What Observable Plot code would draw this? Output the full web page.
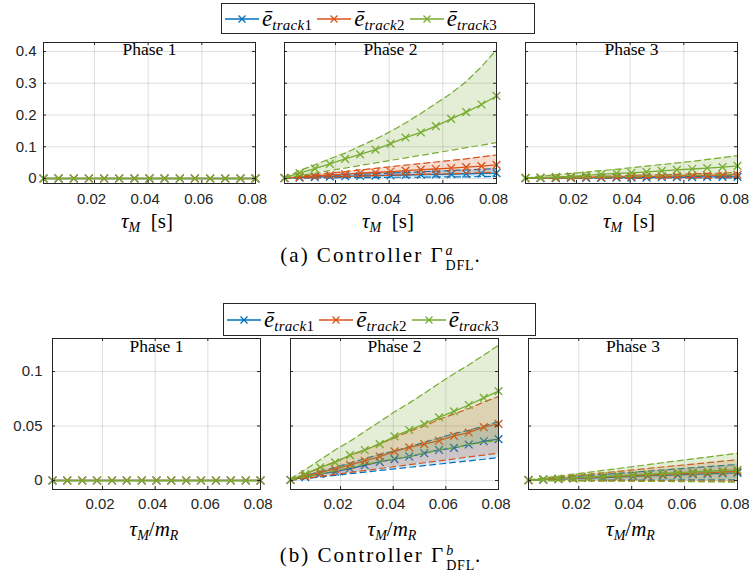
<!DOCTYPE html>
<html><head><meta charset="utf-8">
<script src="https://cdn.jsdelivr.net/npm/d3@7"></script>
<script src="https://cdn.jsdelivr.net/npm/@observablehq/plot@0.6"></script>
<style>
body{margin:0;background:#fff;}
#fig{position:relative;width:749px;height:584px;overflow:hidden;background:#fff;}
.lbl{position:absolute;font-family:"Liberation Serif","Times New Roman",serif;font-size:21px;color:#000;white-space:nowrap;transform:translate(-50%,-50%);line-height:1;}
.lbl i{font-style:italic;}
.lbl sub{font-size:14px;vertical-align:-0.3em;line-height:0;}
.cap{position:absolute;font-family:"Liberation Serif","Times New Roman",serif;font-size:21px;letter-spacing:2px;color:#000;white-space:nowrap;transform:translate(-50%,-50%);line-height:1;}
.supsub{display:inline-block;vertical-align:-0.55em;line-height:1.05;font-size:14px;letter-spacing:0.8px;margin-left:1px;}
.supsub span{display:block;}
.legend{position:absolute;border:1px solid #262626;background:#fff;display:flex;align-items:center;box-sizing:border-box;padding-left:2px;}
.entry{display:flex;align-items:center;margin-right:4px;}
.entry svg{display:block;}
.etxt{font-family:"Liberation Serif","Times New Roman",serif;font-size:23px;font-style:italic;line-height:1;white-space:nowrap;margin-left:2px;}
.etxt sub{font-size:15px;vertical-align:-0.25em;line-height:0;letter-spacing:0.3px;}
.etxt sub span{font-style:normal;}
</style></head><body><div id="fig"></div>
<script>
// ---------- data ----------
const tauM = [0.001, 0.0066, 0.0123, 0.0179, 0.0236, 0.0292, 0.0349, 0.0405, 0.0461, 0.0518, 0.0574, 0.0631, 0.0687, 0.0744, 0.08];
const xTicks = [0.02, 0.04, 0.06, 0.08];
const yTicksA = [0, 0.1, 0.2, 0.3, 0.4];
const yTicksB = [0, 0.05, 0.1];
const trackNames = ["track", "track", "track"];
const trackNums = ["1", "2", "3"];
const phaseNames = ["Phase 1", "Phase 2", "Phase 3"];
const colors = ["#0072BD", "#D95319", "#77AC30"];

const zeros = [0, 0, 0, 0, 0, 0, 0, 0, 0, 0, 0, 0, 0, 0, 0];

// Controller a, phase 2
const a2_t1_mean = [0.001, 0.003, 0.004, 0.006, 0.007, 0.008, 0.009, 0.010, 0.011, 0.012, 0.013, 0.014, 0.015, 0.016, 0.017];
const a2_t1_lo   = [0.001, 0.001, 0.002, 0.002, 0.003, 0.003, 0.003, 0.004, 0.004, 0.004, 0.005, 0.005, 0.005, 0.006, 0.006];
const a2_t1_hi   = [0.001, 0.004, 0.006, 0.009, 0.011, 0.013, 0.015, 0.017, 0.019, 0.021, 0.023, 0.025, 0.027, 0.029, 0.031];
const a2_t2_mean = [0.001, 0.005, 0.008, 0.011, 0.014, 0.017, 0.019, 0.022, 0.025, 0.028, 0.030, 0.033, 0.036, 0.039, 0.043];
const a2_t2_lo   = [0.001, 0.002, 0.003, 0.005, 0.006, 0.007, 0.009, 0.010, 0.011, 0.013, 0.014, 0.015, 0.017, 0.018, 0.020];
const a2_t2_hi   = [0.001, 0.007, 0.012, 0.017, 0.022, 0.027, 0.032, 0.037, 0.042, 0.047, 0.052, 0.057, 0.062, 0.068, 0.074];
const a2_t3_mean = [0.002, 0.017, 0.031, 0.046, 0.062, 0.076, 0.091, 0.110, 0.129, 0.145, 0.165, 0.188, 0.209, 0.233, 0.260];
const a2_t3_lo   = [0.001, 0.009, 0.017, 0.025, 0.033, 0.041, 0.049, 0.057, 0.065, 0.073, 0.081, 0.089, 0.097, 0.105, 0.113];
const a2_t3_hi   = [0.002, 0.025, 0.043, 0.062, 0.080, 0.102, 0.124, 0.148, 0.175, 0.205, 0.236, 0.268, 0.305, 0.352, 0.405];

// Controller a, phase 3
const a3_t1_mean = [0.001, 0.001, 0.001, 0.002, 0.002, 0.002, 0.003, 0.003, 0.003, 0.004, 0.004, 0.004, 0.005, 0.005, 0.005];
const a3_t1_lo   = [0.0005, 0.0005, 0.001, 0.001, 0.001, 0.001, 0.001, 0.001, 0.001, 0.002, 0.002, 0.002, 0.002, 0.002, 0.002];
const a3_t1_hi   = [0.001, 0.002, 0.002, 0.003, 0.003, 0.004, 0.004, 0.005, 0.005, 0.006, 0.006, 0.007, 0.007, 0.008, 0.008];
const a3_t2_mean = [0.001, 0.002, 0.002, 0.003, 0.004, 0.004, 0.005, 0.006, 0.007, 0.007, 0.008, 0.009, 0.010, 0.011, 0.012];
const a3_t2_lo   = [0.001, 0.001, 0.001, 0.001, 0.002, 0.002, 0.002, 0.002, 0.003, 0.003, 0.003, 0.003, 0.004, 0.004, 0.004];
const a3_t2_hi   = [0.001, 0.002, 0.003, 0.005, 0.006, 0.007, 0.008, 0.010, 0.011, 0.012, 0.013, 0.015, 0.016, 0.017, 0.019];
const a3_t3_mean = [0.002, 0.003, 0.005, 0.007, 0.010, 0.013, 0.016, 0.018, 0.021, 0.024, 0.027, 0.030, 0.033, 0.036, 0.040];
const a3_t3_lo   = [0.001, 0.002, 0.003, 0.003, 0.004, 0.005, 0.006, 0.006, 0.007, 0.008, 0.009, 0.010, 0.011, 0.012, 0.013];
const a3_t3_hi   = [0.002, 0.007, 0.012, 0.016, 0.020, 0.025, 0.029, 0.034, 0.039, 0.044, 0.049, 0.054, 0.060, 0.066, 0.072];

// Controller b, phase 2
const b2_t1_mean = [0.0005, 0.003, 0.006, 0.008, 0.011, 0.014, 0.017, 0.0196, 0.022, 0.025, 0.028, 0.030, 0.033, 0.036, 0.038];
const b2_t1_lo   = [0.0003, 0.0017, 0.0032, 0.0047, 0.0062, 0.0077, 0.0092, 0.0107, 0.0121, 0.0136, 0.0151, 0.0166, 0.018, 0.0195, 0.021];
const b2_t1_hi   = [0.0007, 0.0045, 0.0083, 0.012, 0.016, 0.020, 0.024, 0.027, 0.031, 0.035, 0.039, 0.043, 0.046, 0.050, 0.054];
const b2_t2_mean = [0.0005, 0.0043, 0.0074, 0.0104, 0.0144, 0.018, 0.022, 0.0267, 0.0304, 0.0334, 0.0365, 0.041, 0.044, 0.049, 0.052];
const b2_t2_lo   = [0.0003, 0.002, 0.0038, 0.0056, 0.0074, 0.0092, 0.011, 0.0127, 0.0145, 0.0163, 0.018, 0.0198, 0.0216, 0.0233, 0.025];
const b2_t2_hi   = [0.001, 0.006, 0.012, 0.017, 0.023, 0.028, 0.034, 0.039, 0.045, 0.050, 0.056, 0.061, 0.066, 0.072, 0.077];
const b2_t3_mean = [0.0005, 0.0058, 0.012, 0.0166, 0.0233, 0.028, 0.0334, 0.0405, 0.0463, 0.0518, 0.058, 0.0635, 0.0693, 0.0758, 0.082];
const b2_t3_lo   = [0.0005, 0.003, 0.006, 0.009, 0.012, 0.015, 0.017, 0.020, 0.022, 0.025, 0.028, 0.030, 0.033, 0.035, 0.037];
const b2_t3_hi   = [0.0015, 0.010, 0.019, 0.028, 0.036, 0.045, 0.054, 0.063, 0.071, 0.080, 0.089, 0.098, 0.106, 0.115, 0.124];

// Controller b, phase 3
const b3_t1_mean = [0.0003, 0.0008, 0.0013, 0.0018, 0.0023, 0.0027, 0.0032, 0.0037, 0.0042, 0.0047, 0.0052, 0.0057, 0.0061, 0.0066, 0.007];
const b3_t1_lo   = [0, 0.0001, 0.0001, 0.0002, 0.0002, 0.0003, 0.0003, 0.0003, 0.0004, 0.0004, 0.0005, 0.0005, 0.0005, 0.0006, 0.0006];
const b3_t1_hi   = [0.0003, 0.0013, 0.0024, 0.0034, 0.0045, 0.0055, 0.0065, 0.0075, 0.0086, 0.0096, 0.0106, 0.0117, 0.0127, 0.0137, 0.0147];
const b3_t2_mean = [0.0003, 0.0009, 0.0015, 0.0021, 0.0027, 0.0033, 0.0038, 0.0044, 0.0050, 0.0056, 0.0062, 0.0067, 0.0073, 0.0078, 0.0083];
const b3_t2_lo   = [0, 0, -0.0001, -0.0001, -0.0002, -0.0002, -0.0002, -0.0003, -0.0003, -0.0004, -0.0004, -0.0005, -0.0005, -0.0006, -0.0006];
const b3_t2_hi   = [0.0004, 0.0017, 0.003, 0.0044, 0.0057, 0.007, 0.0084, 0.0097, 0.011, 0.0124, 0.0137, 0.015, 0.0164, 0.0177, 0.019];
const b3_t3_mean = [0.0003, 0.001, 0.0017, 0.0024, 0.0031, 0.0038, 0.0045, 0.0052, 0.0059, 0.0066, 0.0072, 0.0079, 0.0085, 0.0092, 0.0098];
const b3_t3_lo   = [0, -0.0001, -0.0002, -0.0003, -0.0004, -0.0005, -0.0006, -0.0007, -0.0008, -0.0009, -0.001, -0.0011, -0.0012, -0.0014, -0.0015];
const b3_t3_hi   = [0.0005, 0.0022, 0.004, 0.0058, 0.0075, 0.0093, 0.011, 0.0128, 0.0145, 0.0163, 0.018, 0.0198, 0.0215, 0.0233, 0.025];

// ---------- layout ----------
const fig = document.getElementById("fig");
const ML = 45, MR = 12, MT = 2, MB = 30;

const rows = [
  {
    yDomain: [-0.0157, 0.4283], yTicks: yTicksA, top: 42, bottom: 183,
    frames: [[43, 255], [284, 496], [525, 737]], yPad: 7, xPad: 10, xDx: -3, titleDy: 0,
    phases: [
      [[zeros, zeros, zeros], [zeros, zeros, zeros], [zeros, zeros, zeros]],
      [[a2_t1_mean, a2_t1_lo, a2_t1_hi], [a2_t2_mean, a2_t2_lo, a2_t2_hi], [a2_t3_mean, a2_t3_lo, a2_t3_hi]],
      [[a3_t1_mean, a3_t1_lo, a3_t1_hi], [a3_t2_mean, a3_t2_lo, a3_t2_hi], [a3_t3_mean, a3_t3_lo, a3_t3_hi]]
    ]
  },
  {
    yDomain: [-0.00826, 0.1303], yTicks: yTicksB, top: 338, bottom: 489,
    frames: [[52, 260], [290, 498], [528, 737]], yPad: 10, xPad: 9, xDx: -2.5, titleDy: 1,
    phases: [
      [[zeros, zeros, zeros], [zeros, zeros, zeros], [zeros, zeros, zeros]],
      [[b2_t1_mean, b2_t1_lo, b2_t1_hi], [b2_t2_mean, b2_t2_lo, b2_t2_hi], [b2_t3_mean, b2_t3_lo, b2_t3_hi]],
      [[b3_t1_mean, b3_t1_lo, b3_t1_hi], [b3_t2_mean, b3_t2_lo, b3_t2_hi], [b3_t3_mean, b3_t3_lo, b3_t3_hi]]
    ]
  }
];

const ink = "#262626";
const sans = "Liberation Sans, Arial, Helvetica, sans-serif";

rows.forEach((row) => {
  row.frames.forEach(([fl, fr], p) => {
    const fw = fr - fl, fh = row.bottom - row.top;
    const marks = [
      Plot.gridX(xTicks, {stroke: "#000", strokeOpacity: 0.13}),
      Plot.gridY(row.yTicks, {stroke: "#000", strokeOpacity: 0.13})
    ];
    row.phases[p].forEach(([mean, lo, hi], t) => {
      const data = tauM.map((x, j) => ({x, m: mean[j], lo: lo[j], hi: hi[j]}));
      const c = colors[t];
      marks.push(Plot.areaY(data, {x: "x", y1: "lo", y2: "hi", fill: c, fillOpacity: 0.2}));
      marks.push(Plot.lineY(data, {x: "x", y: "hi", stroke: c, strokeWidth: 1.2, strokeDasharray: "6,4"}));
      marks.push(Plot.lineY(data, {x: "x", y: "lo", stroke: c, strokeWidth: 1.2, strokeDasharray: "6,4"}));
      marks.push(Plot.lineY(data, {x: "x", y: "m", stroke: c, strokeWidth: 1.3}));
      marks.push(Plot.dot(data, {x: "x", y: "m", symbol: "times", stroke: c, r: 3.6, strokeWidth: 1.3}));
    });
    // inward tick marks (MATLAB box style)
    marks.push(Plot.tickX(xTicks, {x: d => d, insetTop: fh - 3, stroke: ink}));
    marks.push(Plot.tickX(xTicks, {x: d => d, insetBottom: fh - 3, stroke: ink}));
    marks.push(Plot.tickY(row.yTicks, {y: d => d, insetRight: fw - 3, stroke: ink}));
    marks.push(Plot.tickY(row.yTicks, {y: d => d, insetLeft: fw - 3, stroke: ink}));
    marks.push(Plot.frame({stroke: ink, strokeWidth: 1}));
    marks.push(Plot.axisX(xTicks, {tickSize: 0, tickPadding: row.xPad, dx: row.xDx, tickFormat: d => String(d), fontSize: 15, fill: ink, fontFamily: sans, label: null}));
    marks.push(Plot.axisY(row.yTicks, {tickSize: 0, tickPadding: row.yPad, tickFormat: p === 0 ? (d => String(d)) : (() => ""), fontSize: 15, fill: ink, fontFamily: sans, label: null}));
    marks.push(Plot.text([phaseNames[p]], {text: d => d, frameAnchor: "top", lineAnchor: "top", dy: row.titleDy, fontFamily: "Liberation Serif, Times New Roman, serif", fontSize: 17.5, fill: "#000"}));

    const svg = Plot.plot({
      width: fw + ML + MR,
      height: fh + MT + MB,
      marginLeft: ML, marginRight: MR, marginTop: MT, marginBottom: MB,
      x: {domain: [0.001, 0.08]},
      y: {domain: row.yDomain},
      style: {background: "transparent", overflow: "visible"},
      marks
    });
    svg.style.position = "absolute";
    svg.style.left = (fl - ML) + "px";
    svg.style.top = (row.top - MT) + "px";
    fig.appendChild(svg);
  });
});

// axis labels and captions
function addLabel(html, cx, cy, cls) {
  const d = document.createElement("div");
  d.className = cls;
  d.style.left = cx + "px";
  d.style.top = cy + "px";
  d.innerHTML = html;
  fig.appendChild(d);
}
rows[0].frames.forEach(([fl, fr]) => addLabel('<i>τ</i><sub><i>M</i></sub>&nbsp; [s]', (fl + fr) / 2 - 2, 221, "lbl"));
rows[1].frames.forEach(([fl, fr]) => addLabel('<i>τ</i><sub><i>M</i></sub>/<i>m</i><sub><i>R</i></sub>', (fl + fr) / 2 - 2, 529, "lbl"));

addLabel('(a) Controller Γ<span class="supsub"><span><i>a</i></span><span>DFL</span></span>.', 381, 259, "cap");
addLabel('(b) Controller Γ<span class="supsub"><span><i>b</i></span><span>DFL</span></span>.', 381, 559, "cap");

// legends
function addLegend(left, top, width, height) {
  const lg = document.createElement("div");
  lg.className = "legend";
  lg.style.left = left + "px"; lg.style.top = top + "px";
  lg.style.width = width + "px"; lg.style.height = height + "px";
  colors.forEach((c, i) => {
    const e = document.createElement("div");
    e.className = "entry";
    e.innerHTML = `<svg width="36" height="14" viewBox="0 0 36 14"><line x1="1" x2="35" y1="7" y2="7" stroke="${c}" stroke-width="1.3"/><path d="M14.5 3.5 L21.5 10.5 M21.5 3.5 L14.5 10.5" stroke="${c}" stroke-width="1.3"/></svg>` +
      `<span class="etxt">ē<sub>${trackNames[i]}<span>${trackNums[i]}</span></sub></span>`;
    lg.appendChild(e);
  });
  fig.appendChild(lg);
}
addLegend(221, 3, 314, 31);
addLegend(223, 303, 313, 33);
</script>
</body></html>
